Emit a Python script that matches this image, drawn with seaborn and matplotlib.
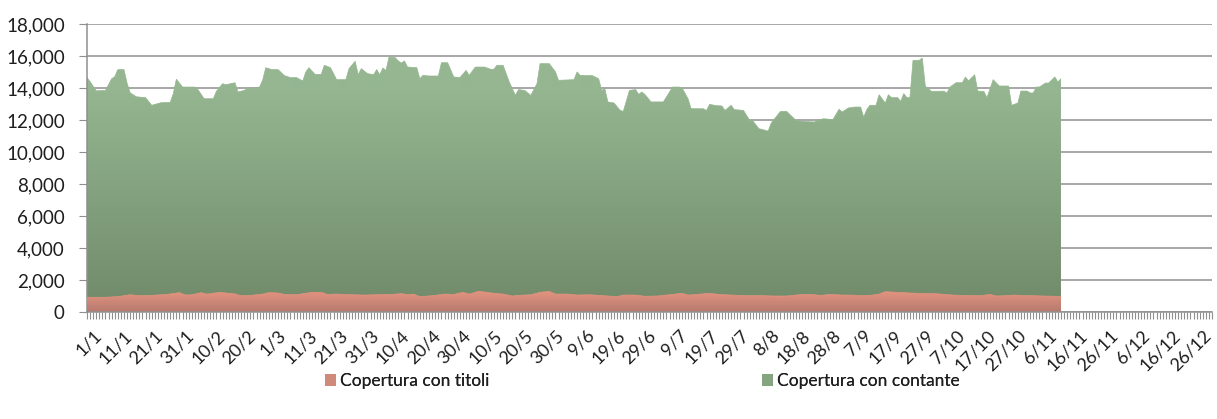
import numpy as np
import pandas as pd
import matplotlib
matplotlib.use("Agg")
import matplotlib.pyplot as plt
import matplotlib.transforms as mtransforms
import seaborn as sns
from matplotlib.patches import Patch
from matplotlib.colors import LinearSegmentedColormap
from matplotlib.ticker import FuncFormatter

# ---------------- data ----------------
ANNO = 2016  # leap year (20/2 + 10 days = 1/3)

# top of the stacked area (titoli + contante), read at day-of-year index (0 = 1/1)
giorno_totale = [0, 1, 3, 6, 8, 9, 10, 12, 13, 14, 16, 19, 21, 24, 27, 28, 29, 31, 35, 36, 38,
                 41, 42, 44, 45, 48, 49, 51, 52, 56, 57, 58, 60, 62, 64, 66, 68, 70, 71, 72,
                 74, 76, 77, 79, 81, 84, 85, 87, 88, 89, 91, 93, 94, 95, 96, 97, 98, 100,
                 101, 102, 103, 104, 107, 108, 109, 111, 114, 115, 117, 119, 121, 123, 124,
                 126, 129, 131, 132, 133, 135, 137, 138, 139, 140, 142, 144, 146, 147, 150,
                 152, 153, 158, 159, 160, 164, 166, 167, 168, 169, 171, 173, 174, 176, 178,
                 179, 180, 181, 183, 187, 189, 190, 192, 193, 195, 196, 200, 201, 202, 204,
                 206, 207, 209, 210, 213, 215, 216, 218, 221, 222, 225, 227, 230, 232, 236,
                 237, 239, 242, 244, 245, 247, 249, 251, 252, 253, 254, 256, 257, 259, 260,
                 261, 263, 264, 265, 266, 267, 268, 270, 271, 272, 274, 278, 279, 280, 282,
                 284, 285, 286, 288, 289, 291, 292, 294, 296, 299, 300, 302, 303, 305, 306,
                 307, 308, 309, 311, 312, 314, 315, 316]
totale = [14650, 14400, 13820, 13850, 14580, 14700, 15150, 15150, 14300, 13700, 13450, 13400,
          12920, 13080, 13100, 13650, 14550, 14060, 14060, 13900, 13330, 13330, 13800, 14270,
          14200, 14330, 13750, 13850, 13960, 14060, 14500, 15270, 15150, 15150, 14780, 14650,
          14650, 14440, 15000, 15270, 14850, 14850, 15420, 15270, 14520, 14520, 15210, 15670,
          14830, 15210, 14900, 14830, 15150, 14830, 15250, 15100, 15940, 15900, 15690, 15560,
          15690, 15310, 15270, 14580, 14790, 14750, 14750, 15580, 15580, 14690, 14650, 15100,
          14790, 15310, 15310, 15170, 15170, 15420, 15420, 14375, 13960, 13540, 13900, 13850,
          13540, 14270, 15520, 15520, 15000, 14480, 14520, 15000, 14790, 14770, 14580, 13850,
          13960, 13130, 13060, 12600, 12540, 13850, 13900, 13600, 13750, 13600, 13130, 13130,
          13750, 14060, 14060, 14030, 13330, 12710, 12700, 12600, 12980, 12900, 12875, 12600,
          12920, 12650, 12600, 11980, 11950, 11460, 11310, 11810, 12540, 12540, 11980, 11920,
          11875, 11980, 12080, 12020, 12670, 12500, 12750, 12810, 12810, 12190, 12650, 12920,
          12920, 13580, 13060, 13580, 13400, 13400, 13170, 13650, 13400, 13400, 15730, 15730,
          15870, 14100, 13790, 13800, 13690, 14060, 14330, 14330, 14690, 14440, 14830, 13810,
          13780, 13400, 14520, 14125, 14125, 12920, 13060, 13810, 13810, 13690, 13690, 14060,
          14060, 14310, 14310, 14690, 14375, 14580]

# "Copertura con titoli" (bottom layer)
giorno_titoli = [0, 6, 10, 14, 17, 21, 26, 30, 32, 34, 37, 39, 43, 46, 48, 50, 53, 57, 59, 62,
                 64, 68, 73, 76, 78, 81, 86, 90, 94, 99, 102, 104, 106, 108, 112, 116, 119,
                 122, 124, 127, 129, 132, 135, 138, 140, 144, 147, 150, 152, 156, 159, 163,
                 166, 169, 172, 174, 178, 181, 185, 190, 193, 195, 198, 202, 205, 209, 214,
                 219, 223, 227, 232, 235, 238, 241, 245, 248, 251, 254, 257, 259, 263, 267,
                 272, 275, 277, 281, 286, 290, 293, 295, 298, 301, 304, 307, 310, 315, 316]
titoli = [920, 920, 960, 1080, 1020, 1040, 1100, 1210, 1060, 1080, 1210, 1120, 1230, 1170,
          1130, 1020, 1040, 1120, 1210, 1190, 1100, 1080, 1230, 1230, 1100, 1120, 1080, 1060,
          1080, 1100, 1150, 1080, 1120, 960, 1020, 1120, 1100, 1230, 1120, 1290, 1250, 1170,
          1120, 1000, 1040, 1080, 1230, 1290, 1120, 1120, 1060, 1080, 1040, 1000, 960, 1060,
          1060, 980, 1000, 1100, 1170, 1060, 1100, 1170, 1100, 1060, 1020, 1020, 1000, 1000,
          1100, 1100, 1040, 1100, 1060, 1060, 1020, 1040, 1120, 1270, 1230, 1190, 1150, 1150,
          1120, 1060, 1020, 1020, 1100, 1000, 1020, 1060, 1020, 1020, 1000, 980, 980]

tick_labels = ["1/1", "11/1", "21/1", "31/1", "10/2", "20/2", "1/3", "11/3", "21/3", "31/3",
               "10/4", "20/4", "30/4", "10/5", "20/5", "30/5", "9/6", "19/6", "29/6", "9/7",
               "19/7", "29/7", "8/8", "18/8", "28/8", "7/9", "17/9", "27/9", "7/10", "17/10",
               "27/10", "6/11", "16/11", "26/11", "6/12", "16/12", "26/12"]
y_ticks = [0, 2000, 4000, 6000, 8000, 10000, 12000, 14000, 16000, 18000]
series_names = ["Copertura con titoli", "Copertura con contante"]

# ---------------- style ----------------
sns.set_theme(style="white")
plt.rcParams['font.family'] = ['Lato', 'DejaVu Sans']
TXT = '#1e1e1e'
GRID = '#8f8f8f'
GREEN_TOP, GREEN_BOT = '#95b691', '#708a6a'
RED_TOP, RED_BOT = '#e3937f', '#b57a6f'
FS = 13.5

W, H = 1217, 419
fig = plt.figure(figsize=(W / 100, H / 100), dpi=100)
ax = fig.add_axes([87 / W, 1 - 312 / H, (1212 - 87) / W, (312 - 24) / H])

n_days = 366 if pd.Timestamp(f"{ANNO}-12-31").is_leap_year else 365


def gradient_area(x, y, c_bot, c_top, vfull, z, name):
    x = np.asarray(x, float)
    y = np.asarray(y, float)
    top = y.max()
    poly = ax.fill_between(x, 0, y, facecolor='none', linewidth=0, zorder=z)
    cmap = LinearSegmentedColormap.from_list(name, [c_bot, c_top])
    grad = np.clip(np.linspace(0, top / vfull, 256), 0, 1).reshape(-1, 1)
    im = ax.imshow(grad, aspect='auto', cmap=cmap, origin='lower', vmin=0, vmax=1,
                   extent=[x.min(), x.max(), 0, top], zorder=z, interpolation='bilinear')
    im.set_clip_path(poly.get_paths()[0], transform=ax.transData)
    sns.lineplot(x=x, y=y, ax=ax, color=c_top, linewidth=0.5, zorder=z + 0.1, legend=False)


gradient_area(giorno_totale, totale, GREEN_BOT, GREEN_TOP, 14000, 2, 'verde')
gradient_area(giorno_titoli, titoli, RED_BOT, RED_TOP, 1250, 3, 'rosso')

# axes
ax.set_xlim(0, n_days - 1)
ax.set_ylim(0, 18000)
ax.set_aspect('auto')
ax.set_yticks(y_ticks)
ax.yaxis.set_major_formatter(FuncFormatter(lambda v, p: f"{int(v):,}"))
ax.grid(axis='y', color=GRID, linewidth=1.1, zorder=1)
ax.set_axisbelow(True)

tick_pos = []
for lab in tick_labels:
    d, m = lab.split('/')
    tick_pos.append(pd.Timestamp(year=ANNO, month=int(m), day=int(d)).dayofyear - 1)
ax.set_xticks(tick_pos)
ax.set_xticklabels(tick_labels, rotation=45, ha='right', rotation_mode='anchor')
ax.set_xticks(np.arange(0, n_days), minor=True)
ax.tick_params(axis='x', which='both', direction='out', length=5, width=0.8,
               color=GRID, bottom=True, labelsize=13, labelcolor=TXT, pad=6)
ax.tick_params(axis='y', which='major', direction='out', length=6, width=0.8,
               color=GRID, left=True, labelsize=FS, labelcolor=TXT, pad=10)
shift = mtransforms.ScaledTranslation(6 / 100, 0, fig.dpi_scale_trans)
for lbl in ax.get_xticklabels():
    lbl.set_transform(lbl.get_transform() + shift)

for s in ['top', 'right']:
    ax.spines[s].set_visible(False)
for s in ['left', 'bottom']:
    ax.spines[s].set_color(GRID)
    ax.spines[s].set_linewidth(1.1)
ax.spines['bottom'].set_zorder(5)

leg_colors = ['#d08a7b', '#86a382']
leg_x = [325, 762]
for name, col, lx in zip(series_names, leg_colors, leg_x):
    lg = fig.legend([Patch(facecolor=col, edgecolor='none')], [name], loc='center left',
                    bbox_to_anchor=(lx / W, 1 - 381 / H), frameon=False, fontsize=12.5,
                    handlelength=0.65, handleheight=0.65, handletextpad=0.2,
                    borderpad=0, borderaxespad=0, labelcolor=TXT)
    fig.add_artist(lg)

fig.savefig("out.png", dpi=100)
